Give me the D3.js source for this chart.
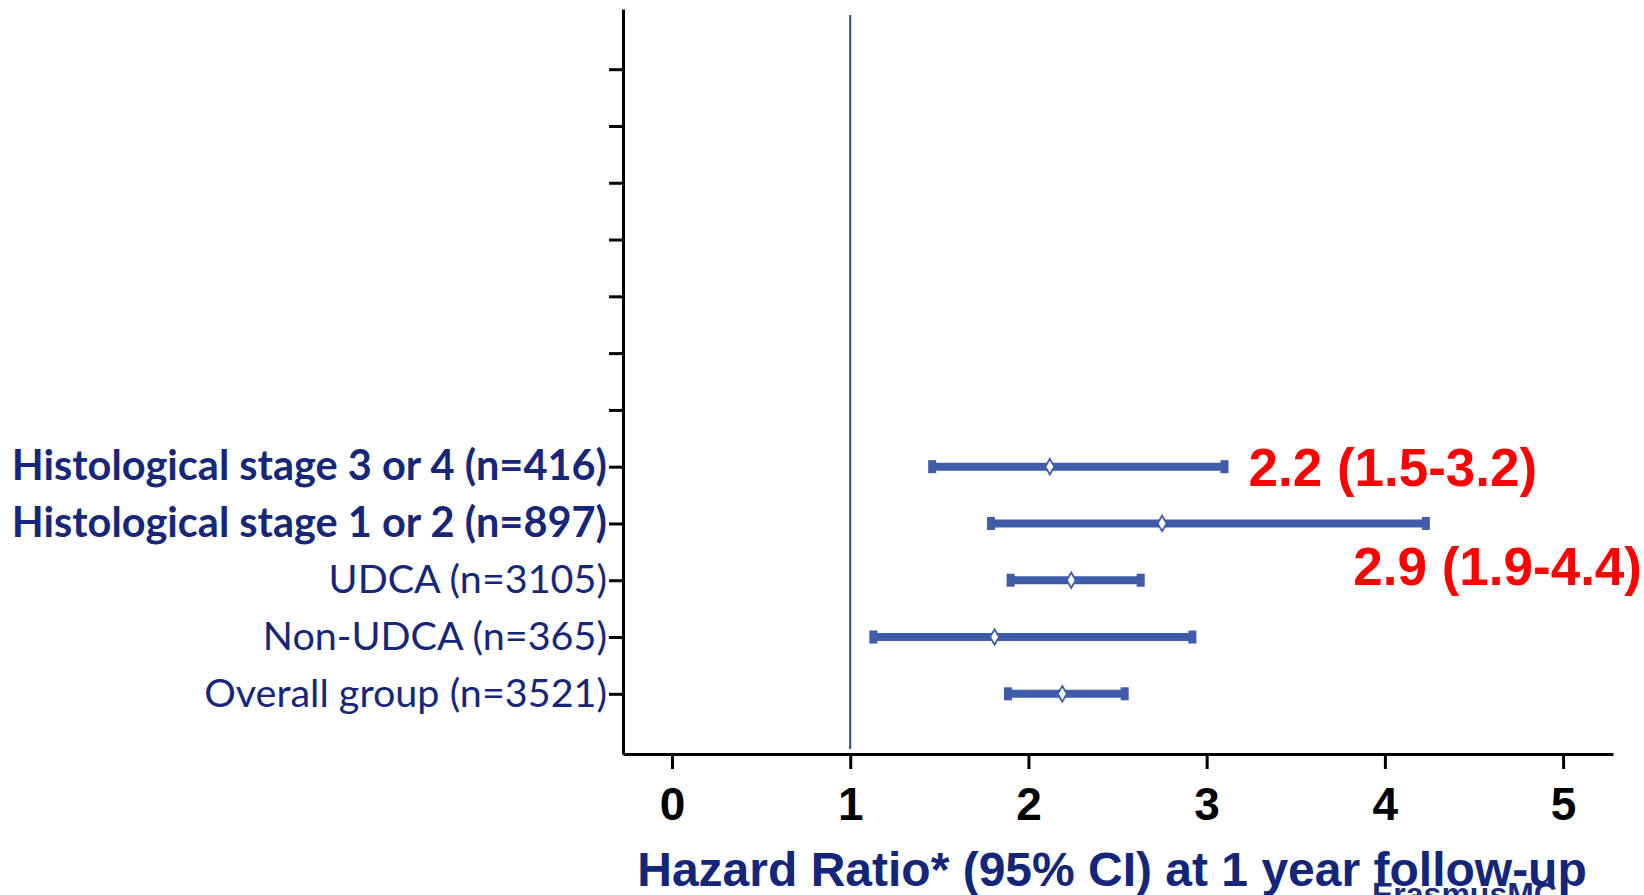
<!DOCTYPE html>
<html>
<head>
<meta charset="utf-8">
<script src="https://cdn.jsdelivr.net/npm/d3@7"></script>
<style>
  body { margin: 0; background: #fff; }
  svg { display: block; }
  .yaxis text { font-family: Lato, 'Open Sans', sans-serif; fill: #16277a; }
  .xaxis text { font-family: 'Liberation Sans', Arial, sans-serif; font-weight: bold; fill: #000; }
</style>
</head>
<body>
<div id="svgDiv"></div>
<script>
// rows from top to bottom, the first 7 slots are empty in the original
var blankRows = 7
var groups = [
  'Histological stage 3 or 4 (n=416)',
  'Histological stage 1 or 2 (n=897)',
  'UDCA (n=3105)',
  'Non-UDCA (n=365)',
  'Overall group (n=3521)'
]
var boldGroups = [true, true, false, false, false]
var hazard = [2.12, 2.75, 2.24, 1.81, 2.19]
var lower = [1.46, 1.79, 1.90, 1.13, 1.885]
var upper = [3.10, 4.23, 2.63, 2.92, 2.54]
var xTicks = [0, 1, 2, 3, 4, 5]
var refValue = 1
var notes = ['2.2 (1.5-3.2)', '2.9 (1.9-4.4)']
var axisTitle = 'Hazard Ratio* (95% CI) at 1 year follow-up'

var width = 1644
var height = 895
var barBlue = '#3f5ba9'

var labels = d3.range(blankRows).map(function () { return '' }).concat(groups)
var rowIndex = d3.range(labels.length)

var svg = d3.select('#svgDiv')
  .append('svg')
  .attr('width', width)
  .attr('height', height)

var xScale = d3.scaleLinear()
  .domain([-0.275, 5.28])
  .range([623, 1613])

var yScale = d3.scalePoint()
  .domain(rowIndex)
  .range([9, 754])
  .padding(1.06)

// logo text peeking out under the axis title
svg.append('text')
  .attr('x', 1372)
  .attr('y', 905)
  .style('font-family', "'Liberation Sans', Arial, sans-serif")
  .style('font-weight', 'bold')
  .style('font-size', '32px')
  .style('fill', '#1d2b78')
  .text('ErasmusMC')

var xAxis = d3.axisBottom(xScale)
  .tickValues(xTicks)
  .tickFormat(d3.format('d'))
  .tickSize(15)
  .tickSizeOuter(0)
  .tickPadding(18)

var xAxisElement = svg.append('g')
  .attr('class', 'xaxis')
  .attr('transform', 'translate(0,' + yScale.range()[1] + ')')
  .call(xAxis)

xAxisElement.selectAll('text').style('font-size', '46px')

var yAxis = d3.axisLeft(yScale)
  .tickFormat(function (i) { return labels[i] })
  .tickSize(14)
  .tickSizeOuter(0)
  .tickPadding(2)

var yAxisElement = svg.append('g')
  .attr('class', 'yaxis')
  .attr('transform', 'translate(' + xScale.range()[0] + ',0)')
  .call(yAxis)

yAxisElement.selectAll('text')
  .style('font-size', function (i) { return i >= blankRows && boldGroups[i - blankRows] ? '41.5px' : '39.5px' })
  .style('font-weight', function (i) { return i >= blankRows && boldGroups[i - blankRows] ? 'bold' : 'normal' })

svg.selectAll('.domain, .tick line')
  .attr('stroke', '#000')
  .attr('stroke-width', 3)

// reference line at HR = 1
svg.append('line')
  .attr('x1', xScale(refValue))
  .attr('x2', xScale(refValue))
  .attr('y1', yScale.range()[0] + 6)
  .attr('y2', yScale.range()[1] - 5)
  .attr('stroke', '#34429a')
  .attr('stroke-width', 2)

var rowsData = groups.map(function (g, i) {
  return { name: g, row: i + blankRows, hr: hazard[i], lo: lower[i], hi: upper[i] }
})

var bars = svg.selectAll('.ci')
  .data(rowsData)
  .enter()
  .append('g')
  .attr('class', 'ci')
  .attr('transform', function (d) { return 'translate(0,' + yScale(d.row) + ')' })

bars.append('line')
  .attr('x1', function (d) { return xScale(d.lo) })
  .attr('x2', function (d) { return xScale(d.hi) })
  .attr('stroke', barBlue)
  .attr('stroke-width', 8)

bars.selectAll('.cap')
  .data(function (d) { return [d.lo, d.hi] })
  .enter()
  .append('rect')
  .attr('class', 'cap')
  .attr('x', function (v) { return xScale(v) - 4 })
  .attr('y', -6.5)
  .attr('width', 8)
  .attr('height', 13)
  .attr('fill', barBlue)

bars.append('path')
  .attr('d', d3.symbol().type(d3.symbolDiamond).size(70))
  .attr('transform', function (d) { return 'translate(' + xScale(d.hr) + ',0)' })
  .attr('fill', '#fff')
  .attr('stroke', barBlue)
  .attr('stroke-width', 1.8)

// red annotations for the two histological stage rows
var noteFont = "'Liberation Sans', Arial, sans-serif"
svg.append('text')
  .attr('x', xScale(upper[0]) + 24)
  .attr('y', yScale(blankRows) + 19)
  .style('font-family', noteFont)
  .style('font-weight', 'bold')
  .style('font-size', '53px')
  .style('fill', '#ff0000')
  .text(notes[0])

svg.append('text')
  .attr('x', width - 2)
  .attr('y', yScale(blankRows + 1) + 62)
  .attr('text-anchor', 'end')
  .style('font-family', noteFont)
  .style('font-weight', 'bold')
  .style('font-size', '53px')
  .style('fill', '#ff0000')
  .text(notes[1])

// axis title
svg.append('text')
  .attr('x', (xScale.range()[0] + xScale.range()[1]) / 2 - 6)
  .attr('y', 886)
  .attr('text-anchor', 'middle')
  .style('font-family', "'Liberation Sans', Arial, sans-serif")
  .style('font-weight', 'bold')
  .style('font-size', '48px')
  .style('fill', '#13267a')
  .text(axisTitle)
</script>
</body>
</html>
